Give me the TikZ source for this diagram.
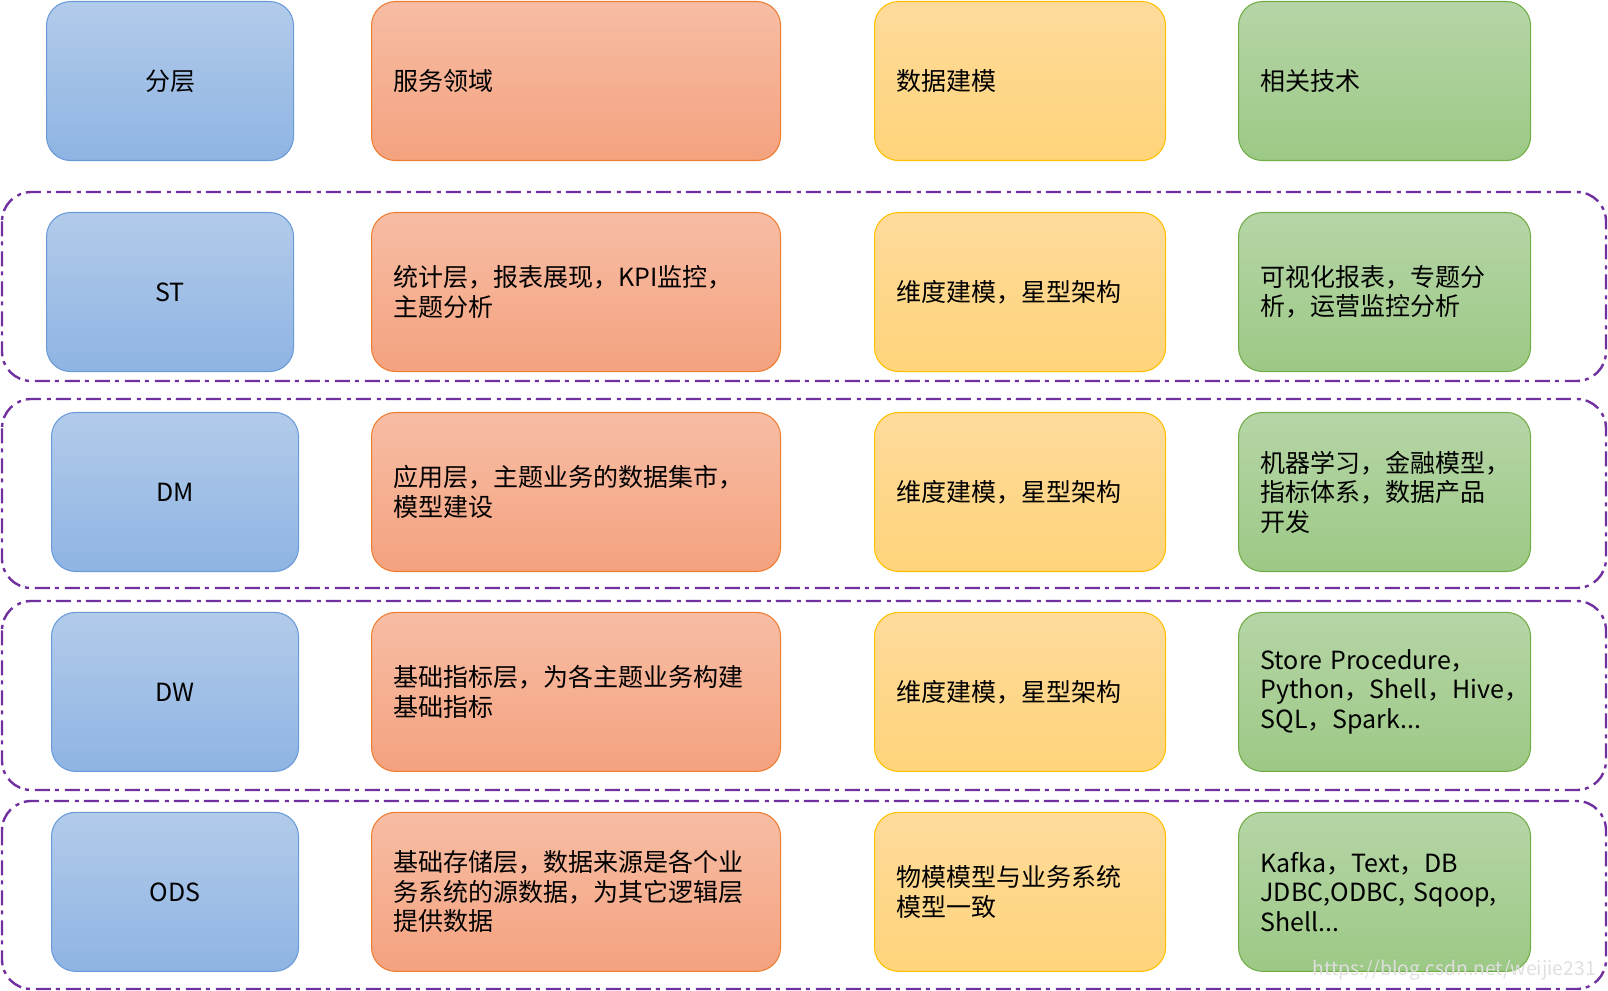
\documentclass[tikz,border=0pt]{standalone}
\usepackage{fontspec}
\setmainfont{Noto Sans CJK SC}
\usetikzlibrary{positioning}
\definecolor{bluetop}{HTML}{B2CBEA}
\definecolor{bluebot}{HTML}{8FB4E3}
\definecolor{blueline}{HTML}{6A9BD9}
\definecolor{orangetop}{HTML}{F7BDA4}
\definecolor{orangebot}{HTML}{F4A27F}
\definecolor{orangeline}{HTML}{ED7D31}
\definecolor{yellowtop}{HTML}{FFDB9C}
\definecolor{yellowbot}{HTML}{FFD47A}
\definecolor{yellowline}{HTML}{FFC000}
\definecolor{greentop}{HTML}{B6D5A7}
\definecolor{greenbot}{HTML}{9CC985}
\definecolor{greenline}{HTML}{70AD47}
\definecolor{framecol}{HTML}{7030A0}

\begin{document}
\begin{tikzpicture}[
  x=0.75pt, y=-0.75pt,
  cell/.style={
    rounded corners=18pt, line width=0.8pt, minimum height=119.25pt,
    inner xsep=16.5pt, inner ysep=0pt, anchor=north west,
    font=\fontsize{18.75}{22.1}\selectfont, align=left
  },
  layerbox/.style={cell, draw=blueline, top color=bluetop, bottom color=bluebot,
    text width=152.25pt, align=center},
  svcbox/.style={cell, draw=orangeline, top color=orangetop, bottom color=orangebot,
    text width=273.75pt},
  modelbox/.style={cell, draw=yellowline, top color=yellowtop, bottom color=yellowbot,
    text width=185.25pt},
  techbox/.style={cell, draw=greenline, top color=greentop, bottom color=greenbot,
    text width=186pt},
  band/.style={draw=framecol, line width=1.8pt, rounded corners=22pt,
    dash pattern=on 11.25pt off 3.75pt on 3pt off 4.5pt}
]
  \useasboundingbox (0,0) rectangle (1608,991);

  \draw[band] (2,192) rectangle (1606,381);
  \draw[band] (2,399) rectangle (1606,588);
  \draw[band] (2,601) rectangle (1606,790);
  \draw[band] (2,801) rectangle (1606,989);

  \node[layerbox] (hlayer) at (46,1)   {分层};
  \node[svcbox]   (hsvc)   at (371,1)  {服务领域};
  \node[modelbox] (hmodel) at (874,1)  {数据建模};
  \node[techbox]  (htech)  at (1238,1) {相关技术};

  \node[layerbox, below=38.2pt of hlayer] (st)  {ST};
  \node[svcbox, below=38.2pt of hsvc]     (sts) {统计层，报表展现，KPI监控，\\主题分析};
  \node[modelbox, below=38.2pt of hmodel] (stm) {维度建模，星型架构};
  \node[techbox, below=38.2pt of htech]   (stt) {可视化报表，专题分\\析，运营监控分析};

  \node[layerbox, below=29.9pt of st, xshift=3.75pt] (dm) {DM};
  \node[svcbox, below=29.9pt of sts]   (dms) {应用层，主题业务的数据集市，\\模型建设};
  \node[modelbox, below=29.9pt of stm] (dmm) {维度建模，星型架构};
  \node[techbox, below=29.9pt of stt]  (dmt) {机器学习，金融模型，\\指标体系，数据产品\\开发};

  \node[layerbox, below=29.9pt of dm]  (dw)  {DW};
  \node[svcbox, below=29.9pt of dms]   (dws) {基础指标层，为各主题业务构建\\基础指标};
  \node[modelbox, below=29.9pt of dmm] (dwm) {维度建模，星型架构};
  \node[techbox, below=29.9pt of dmt]  (dwt) {Store Procedure，\\Python，Shell，Hive，\\SQL，Spark...};

  \node[layerbox, below=29.9pt of dw]  (ods)  {ODS};
  \node[svcbox, below=29.9pt of dws]   (odss) {基础存储层，数据来源是各个业\\务系统的源数据，为其它逻辑层\\提供数据};
  \node[modelbox, below=29.9pt of dwm] (odsm) {物模模型与业务系统\\模型一致};
  \node[techbox, below=29.9pt of dwt]  (odst) {Kafka，Text，DB\\JDBC,ODBC, Sqoop,\\Shell...};

  \node[anchor=east, text=gray!25, font=\fontsize{14.5}{14.5}\selectfont, inner sep=0pt]
    (mark) at (1596,970) {https://blog.csdn.net/weijie231};
\end{tikzpicture}
\end{document}
